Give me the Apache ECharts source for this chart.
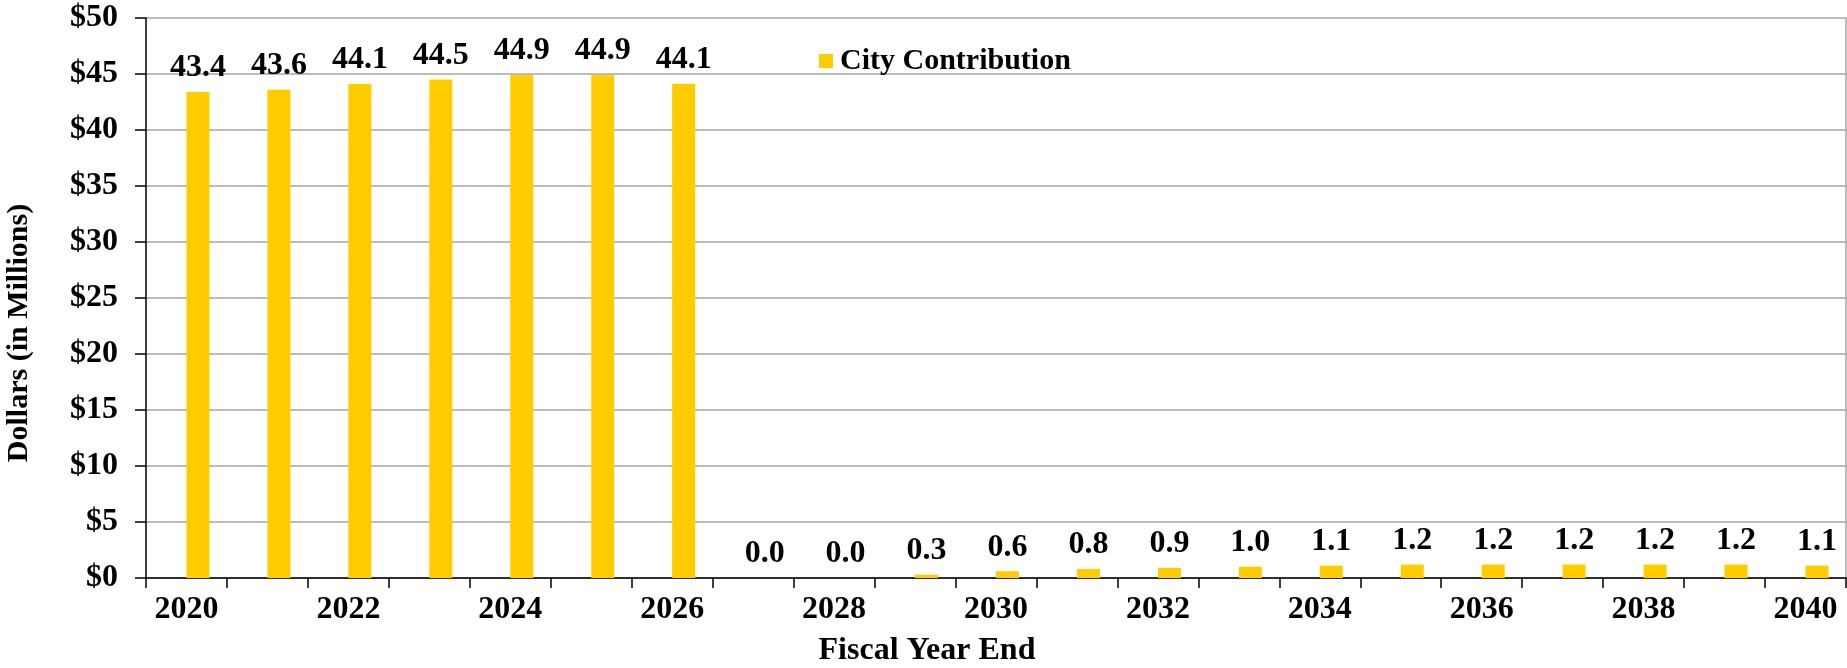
<!DOCTYPE html>
<html>
<head>
<meta charset="utf-8">
<script src="https://cdn.jsdelivr.net/npm/echarts@6/dist/echarts.min.js"></script>
<style>
html,body{margin:0;padding:0;background:#fff;}
#chart{width:1847px;height:668px;}
</style>
</head>
<body>
<div id="chart"></div>
<script>
var categories = ['2020','2021','2022','2023','2024','2025','2026','2027','2028','2029','2030','2031','2032','2033','2034','2035','2036','2037','2038','2039','2040'];
var cityContribution = [43.4,43.6,44.1,44.5,44.9,44.9,44.1,0.0,0.0,0.3,0.6,0.8,0.9,1.0,1.1,1.2,1.2,1.2,1.2,1.2,1.1];
var seriesName = 'City Contribution';
var yTicks = [0,5,10,15,20,25,30,35,40,45,50];

var FONT = "'Times New Roman', 'Liberation Serif', serif";
var chart = echarts.init(document.getElementById('chart'), null, {renderer:'canvas'});
chart.setOption({
  animation:false,
  backgroundColor:'#ffffff',
  textStyle:{fontFamily:FONT},
  grid:{left:146, right:1, top:18, bottom:90, containLabel:false, outerBoundsMode:'none'},
  legend:{
    data:[seriesName],
    left:814, top:41,
    itemWidth:14, itemHeight:14, itemGap:10,
    icon:'rect',
    textStyle:{fontFamily:FONT, fontWeight:'bold', fontSize:30, color:'#000', padding:[0,0,0,2]}
  },
  xAxis:{
    type:'category',
    data:categories,
    boundaryGap:true,
    name:'Fiscal Year End',
    nameLocation:'middle',
    nameGap:57,
    nameTextStyle:{fontFamily:FONT, fontWeight:'bold', fontSize:32, color:'#000', padding:[0,138,0,0]},
    axisLine:{show:true, lineStyle:{color:'#000', width:1.5}},
    axisTick:{show:true, interval:0, length:10, alignWithLabel:false, lineStyle:{color:'#000', width:1.5}},
    axisLabel:{interval:1, margin:16, fontFamily:FONT, fontWeight:'bold', fontSize:32, color:'#000'},
    splitLine:{show:false}
  },
  yAxis:[{
    type:'value',
    min:0, max:50, interval:5,
    name:'Dollars (in Millions)',
    nameLocation:'middle',
    nameGap:112,
    nameRotate:90,
    nameTextStyle:{fontFamily:FONT, fontWeight:'bold', fontSize:30, color:'#000', padding:[0,70,0,0]},
    axisLine:{show:true, lineStyle:{color:'#000', width:1.5}},
    axisTick:{show:true, length:11, lineStyle:{color:'#000', width:1.5}},
    axisLabel:{margin:28, fontFamily:FONT, fontWeight:'bold', fontSize:32, color:'#000',
      formatter:function(v){ return yTicks.indexOf(v) >= 0 ? '$' + v : ''; }},
    splitLine:{show:true, lineStyle:{color:'#a6a6a6', width:1.5}}
  },{
    type:'value',
    min:0, max:50, interval:5,
    position:'right',
    axisLine:{show:true, lineStyle:{color:'#a6a6a6', width:1.5}},
    axisTick:{show:false},
    axisLabel:{show:false},
    splitLine:{show:false}
  }],
  series:[{
    name:'_spacer',
    type:'bar',
    data:[],
    barWidth:23,
    barGap:'0%'
  },{
    name:seriesName,
    type:'bar',
    data:cityContribution,
    barWidth:23,
    barGap:'0%',
    itemStyle:{color:'#ffcc00'},
    label:{
      show:true, position:'top', distance:8,
      fontFamily:FONT, fontWeight:'bold', fontSize:32, color:'#000',
      formatter:function(p){ return p.value.toFixed(1); }
    }
  }]
});
</script>
</body>
</html>
